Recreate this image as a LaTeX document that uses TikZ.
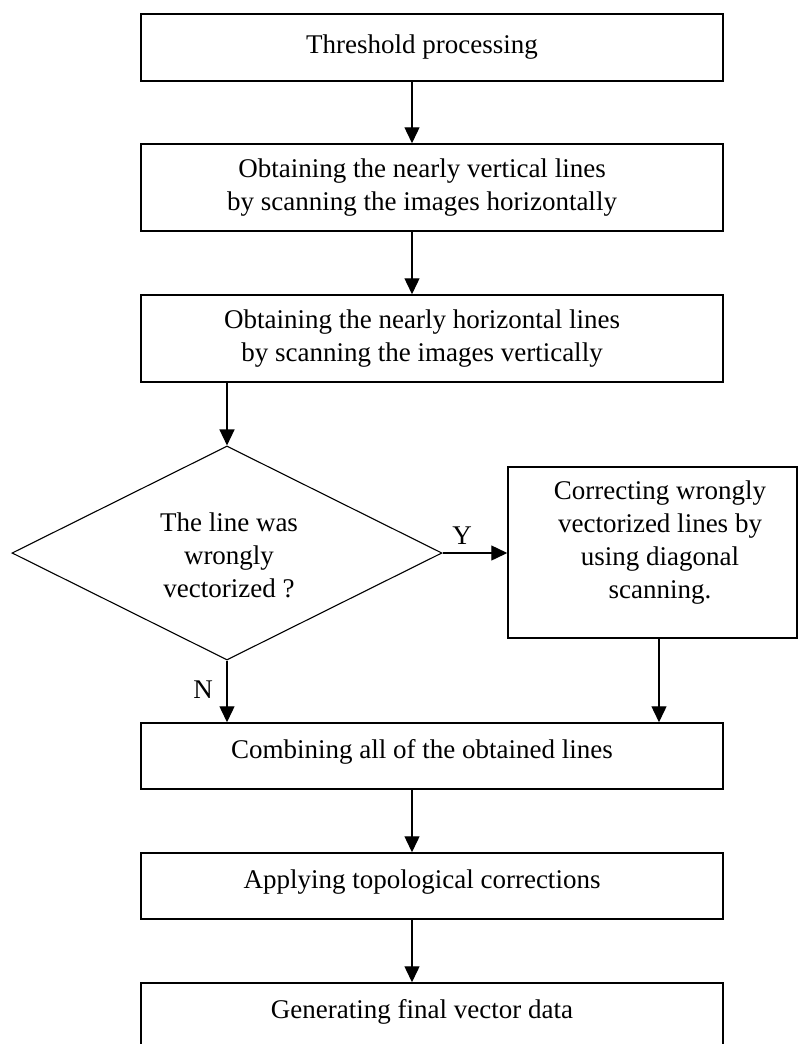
\documentclass[tikz,border=0pt]{standalone}
\usepackage{fontspec}
\setmainfont{Liberation Serif}
\usetikzlibrary{arrows.meta,shapes.geometric}
\begin{document}
\begin{tikzpicture}[x=1pt,y=-1pt,
 box/.style={draw,line width=1.5pt,inner sep=0pt,rectangle,minimum width=582pt},
 txt/.style={font=\fontsize{27}{33}\selectfont,align=center,inner sep=0pt},
 arr/.style={line width=1.4pt,-{Triangle[length=16pt,width=15pt]}},
 dec/.style={draw,diamond,line width=1.1pt,inner sep=0pt}]
\useasboundingbox (0,0) rectangle (798,1044);
\clip (0,0) rectangle (798,1044);
\fill[white] (0,0) rectangle (798,1044);
% boxes
\node[box,minimum height=67pt] (b1) at (432,47.5) {};
\node[box,minimum height=87pt] (b2) at (432,187.5) {};
\node[box,minimum height=87pt] (b3) at (432,338.5) {};
\node[dec,minimum width=430pt,minimum height=214pt] (d) at (227,553) {};
\node[draw,line width=1.5pt,inner sep=0pt,minimum width=289pt,minimum height=171pt] (b4) at (652.5,552.5) {};
\node[box,minimum height=66pt] (b5) at (432,756) {};
\node[box,minimum height=66pt] (b6) at (432,886) {};
\node[box,minimum height=66pt] (b7) at (432,1016) {};
% texts
\node[txt] (t1) at (422,47) {Threshold processing};
\node[txt] (t2) at (422,188) {Obtaining the nearly vertical lines\\by scanning the images horizontally};
\node[txt] (t3) at (422,339) {Obtaining the nearly horizontal lines\\by scanning the images vertically};
\node[txt] (td) at (229,555) {The line was\\wrongly\\vectorized ?};
\node[txt] (t4) at (660,543) {Correcting wrongly\\vectorized lines by\\using diagonal\\scanning.};
\node[txt] (t5) at (422,752) {Combining all of the obtained lines};
\node[txt] (t6) at (422,882) {Applying topological corrections};
\node[txt] (t7) at (422,1012) {Generating final vector data};
\node[txt] (ly) at (462,536) {Y};
\node[txt] (ln) at (203,690) {N};
% connectors
\draw[arr] ([xshift=-20pt]b1.south) -- ([xshift=-20pt]b2.north);
\draw[arr] ([xshift=-20pt]b2.south) -- ([xshift=-20pt]b3.north);
\draw[arr] (b3.south -| d.north) -- (d.north);
\draw[arr] (d.east) -- (d.east -| b4.west);
\draw[arr] ([xshift=6.5pt]b4.south) -- ([xshift=6.5pt]b4.south |- b5.north);
\draw[arr] (d.south) -- (d.south |- b5.north);
\draw[arr] ([xshift=-20pt]b5.south) -- ([xshift=-20pt]b6.north);
\draw[arr] ([xshift=-20pt]b6.south) -- ([xshift=-20pt]b7.north);
\end{tikzpicture}
\end{document}
